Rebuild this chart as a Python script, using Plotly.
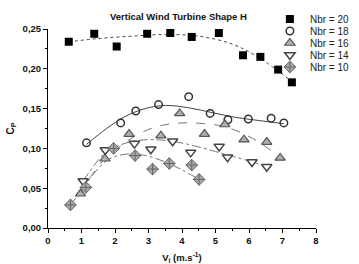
import plotly.graph_objects as go

# ---- data ----
x20 = [0.62, 1.38, 2.05, 2.96, 3.65, 4.29, 5.10, 5.82, 6.34, 6.87, 7.28]
y20 = [0.234, 0.244, 0.228, 0.244, 0.245, 0.240, 0.245, 0.217, 0.215, 0.199, 0.183]

x18 = [1.15, 2.17, 2.62, 3.30, 4.20, 4.84, 5.37, 5.98, 6.66, 7.04]
y18 = [0.107, 0.132, 0.147, 0.155, 0.165, 0.144, 0.136, 0.137, 0.138, 0.132]

x16 = [0.97, 1.70, 2.42, 3.37, 3.93, 4.67, 5.28, 5.85, 6.53, 6.93]
y16 = [0.043, 0.087, 0.118, 0.116, 0.144, 0.118, 0.130, 0.111, 0.108, 0.088]

x14 = [1.05, 1.71, 2.58, 3.07, 3.72, 4.26, 5.11, 5.36, 6.09, 6.53]
y14 = [0.059, 0.098, 0.106, 0.099, 0.109, 0.095, 0.1025, 0.089, 0.083, 0.077]

x10 = [0.67, 1.13, 1.96, 2.60, 3.12, 3.62, 4.29, 4.51]
y10 = [0.029, 0.051, 0.100, 0.091, 0.074, 0.081, 0.079, 0.061]

# fitted trend curves
fx20 = [0.62, 1.5, 2.5, 3.5, 4.5, 5.5, 6.3, 7.28]
fy20 = [0.234, 0.238, 0.241, 0.243, 0.241, 0.231, 0.214, 0.184]
fx18 = [1.15, 1.75, 2.3, 2.9, 3.5, 4.2, 4.9, 5.6, 6.3, 7.04]
fy18 = [0.105, 0.125, 0.140, 0.150, 0.154, 0.151, 0.145, 0.139, 0.135, 0.131]
fx16 = [0.97, 1.3, 1.7, 2.2, 2.7, 3.3, 4.0, 4.7, 5.3, 6.0, 6.5, 6.93]
fy16 = [0.043, 0.066, 0.087, 0.104, 0.118, 0.128, 0.132, 0.131, 0.127, 0.115, 0.102, 0.089]
fx14 = [1.05, 1.4, 1.75, 2.2, 2.7, 3.2, 3.7, 4.3, 5.0, 5.6, 6.1, 6.53]
fy14 = [0.059, 0.080, 0.096, 0.105, 0.110, 0.111, 0.109, 0.104, 0.096, 0.089, 0.083, 0.077]
fx10 = [0.67, 1.0, 1.4, 1.8, 2.2, 2.6, 3.0, 3.5, 4.0, 4.51]
fy10 = [0.029, 0.047, 0.070, 0.086, 0.092, 0.093, 0.090, 0.083, 0.073, 0.061]

names = ["Nbr = 20", "Nbr = 18", "Nbr = 16", "Nbr = 14", "Nbr = 10"]

FONT = "Arial, Liberation Sans, sans-serif"

fig = go.Figure()

# trend curves
curves = [
    (fx20, fy20, "#444444", "dot"),
    (fx18, fy18, "#444444", "solid"),
    (fx16, fy16, "#777777", "dash"),
    (fx14, fy14, "#777777", "dashdot"),
    (fx10, fy10, "#777777", "dashdot"),
]
for cx, cy, col, dash in curves:
    fig.add_trace(go.Scatter(x=cx, y=cy, mode="lines", showlegend=False,
                             line=dict(color=col, width=1, dash=dash, shape="spline", smoothing=1),
                             hoverinfo="skip", cliponaxis=False))

markers = [
    (x20, y20, dict(symbol="square", size=8, color="#000000", line=dict(color="#000000", width=0))),
    (x18, y18, dict(symbol="circle-open", size=7.5, color="#333333", line=dict(color="#333333", width=1.5))),
    (x16, y16, dict(symbol="triangle-up", size=9, color="#b0b0b0", line=dict(color="#555555", width=1.2))),
    (x14, y14, dict(symbol="triangle-down", size=9, color="#ffffff", line=dict(color="#444444", width=1.5))),
    (x10, y10, dict(symbol="diamond-cross", size=9, color="#a8a8a8", line=dict(color="#666666", width=1))),
]
legend_ids = ["legend", "legend2", "legend3", "legend4", "legend5"]
for (mx, my, mk), nm, lg in zip(markers, names, legend_ids):
    fig.add_trace(go.Scatter(x=mx, y=my, mode="markers", name=nm, marker=mk,
                             legend=lg, cliponaxis=False))

# separate one-item legends to get tight spacing (row centres, px from top)
legend_centre_px = [19, 31, 43, 55, 67]
top, bottom = 29, 228
legend_common = dict(xanchor="left", yanchor="middle", x=0.828,
                     bgcolor="rgba(0,0,0,0)", borderwidth=0,
                     font=dict(family=FONT, size=10, color="#222222"))
legend_layout = {}
for lg, py in zip(legend_ids, legend_centre_px):
    yy = 1 - (py - top) / (bottom - top)
    legend_layout[lg] = dict(legend_common, y=yy)

fig.update_layout(
    width=359, height=264,
    margin=dict(l=48, r=43, t=29, b=36, autoexpand=False),
    paper_bgcolor="white", plot_bgcolor="white",
    separators=", ",
    font=dict(family=FONT, size=10, color="#111111"),
    title=dict(text="<b>Vertical Wind Turbine Shape H</b>", x=0.497, xanchor="center",
               y=1 - 17 / 264, yanchor="middle",
               font=dict(family=FONT, size=9.5, color="#111111")),
    showlegend=True,
    **legend_layout,
)

fig.update_xaxes(
    range=[0, 8], tickmode="linear", tick0=0, dtick=1,
    showgrid=False, zeroline=False,
    showline=True, linecolor="#000000", linewidth=1,
    ticks="outside", ticklen=4, tickcolor="#000000", tickwidth=1,
    minor=dict(dtick=0.5, ticks="outside", ticklen=2, tickcolor="#000000", showgrid=False),
    tickfont=dict(family=FONT, size=9.5, color="#111111", weight="bold"),
    title=dict(text="<b>V<sub>i</sub> (m.s<sup>-1</sup>)</b>", standoff=8,
               font=dict(family=FONT, size=9.5, color="#111111")),
)
fig.update_yaxes(
    range=[0, 0.25], tickmode="linear", tick0=0, dtick=0.05, tickformat=".2f",
    showgrid=False, zeroline=False,
    showline=True, linecolor="#000000", linewidth=1,
    ticks="outside", ticklen=4, tickcolor="#000000", tickwidth=1,
    minor=dict(dtick=0.025, ticks="outside", ticklen=2, tickcolor="#000000", showgrid=False),
    tickfont=dict(family=FONT, size=9.5, color="#111111", weight="bold"),
    title=dict(text="<b>C<sub>P</sub></b>", standoff=6,
               font=dict(family=FONT, size=10, color="#111111")),
)

fig.write_html("out.html",
               config={"displayModeBar": False},
               post_script="document.body.style.margin='0';document.body.style.padding='0';")
